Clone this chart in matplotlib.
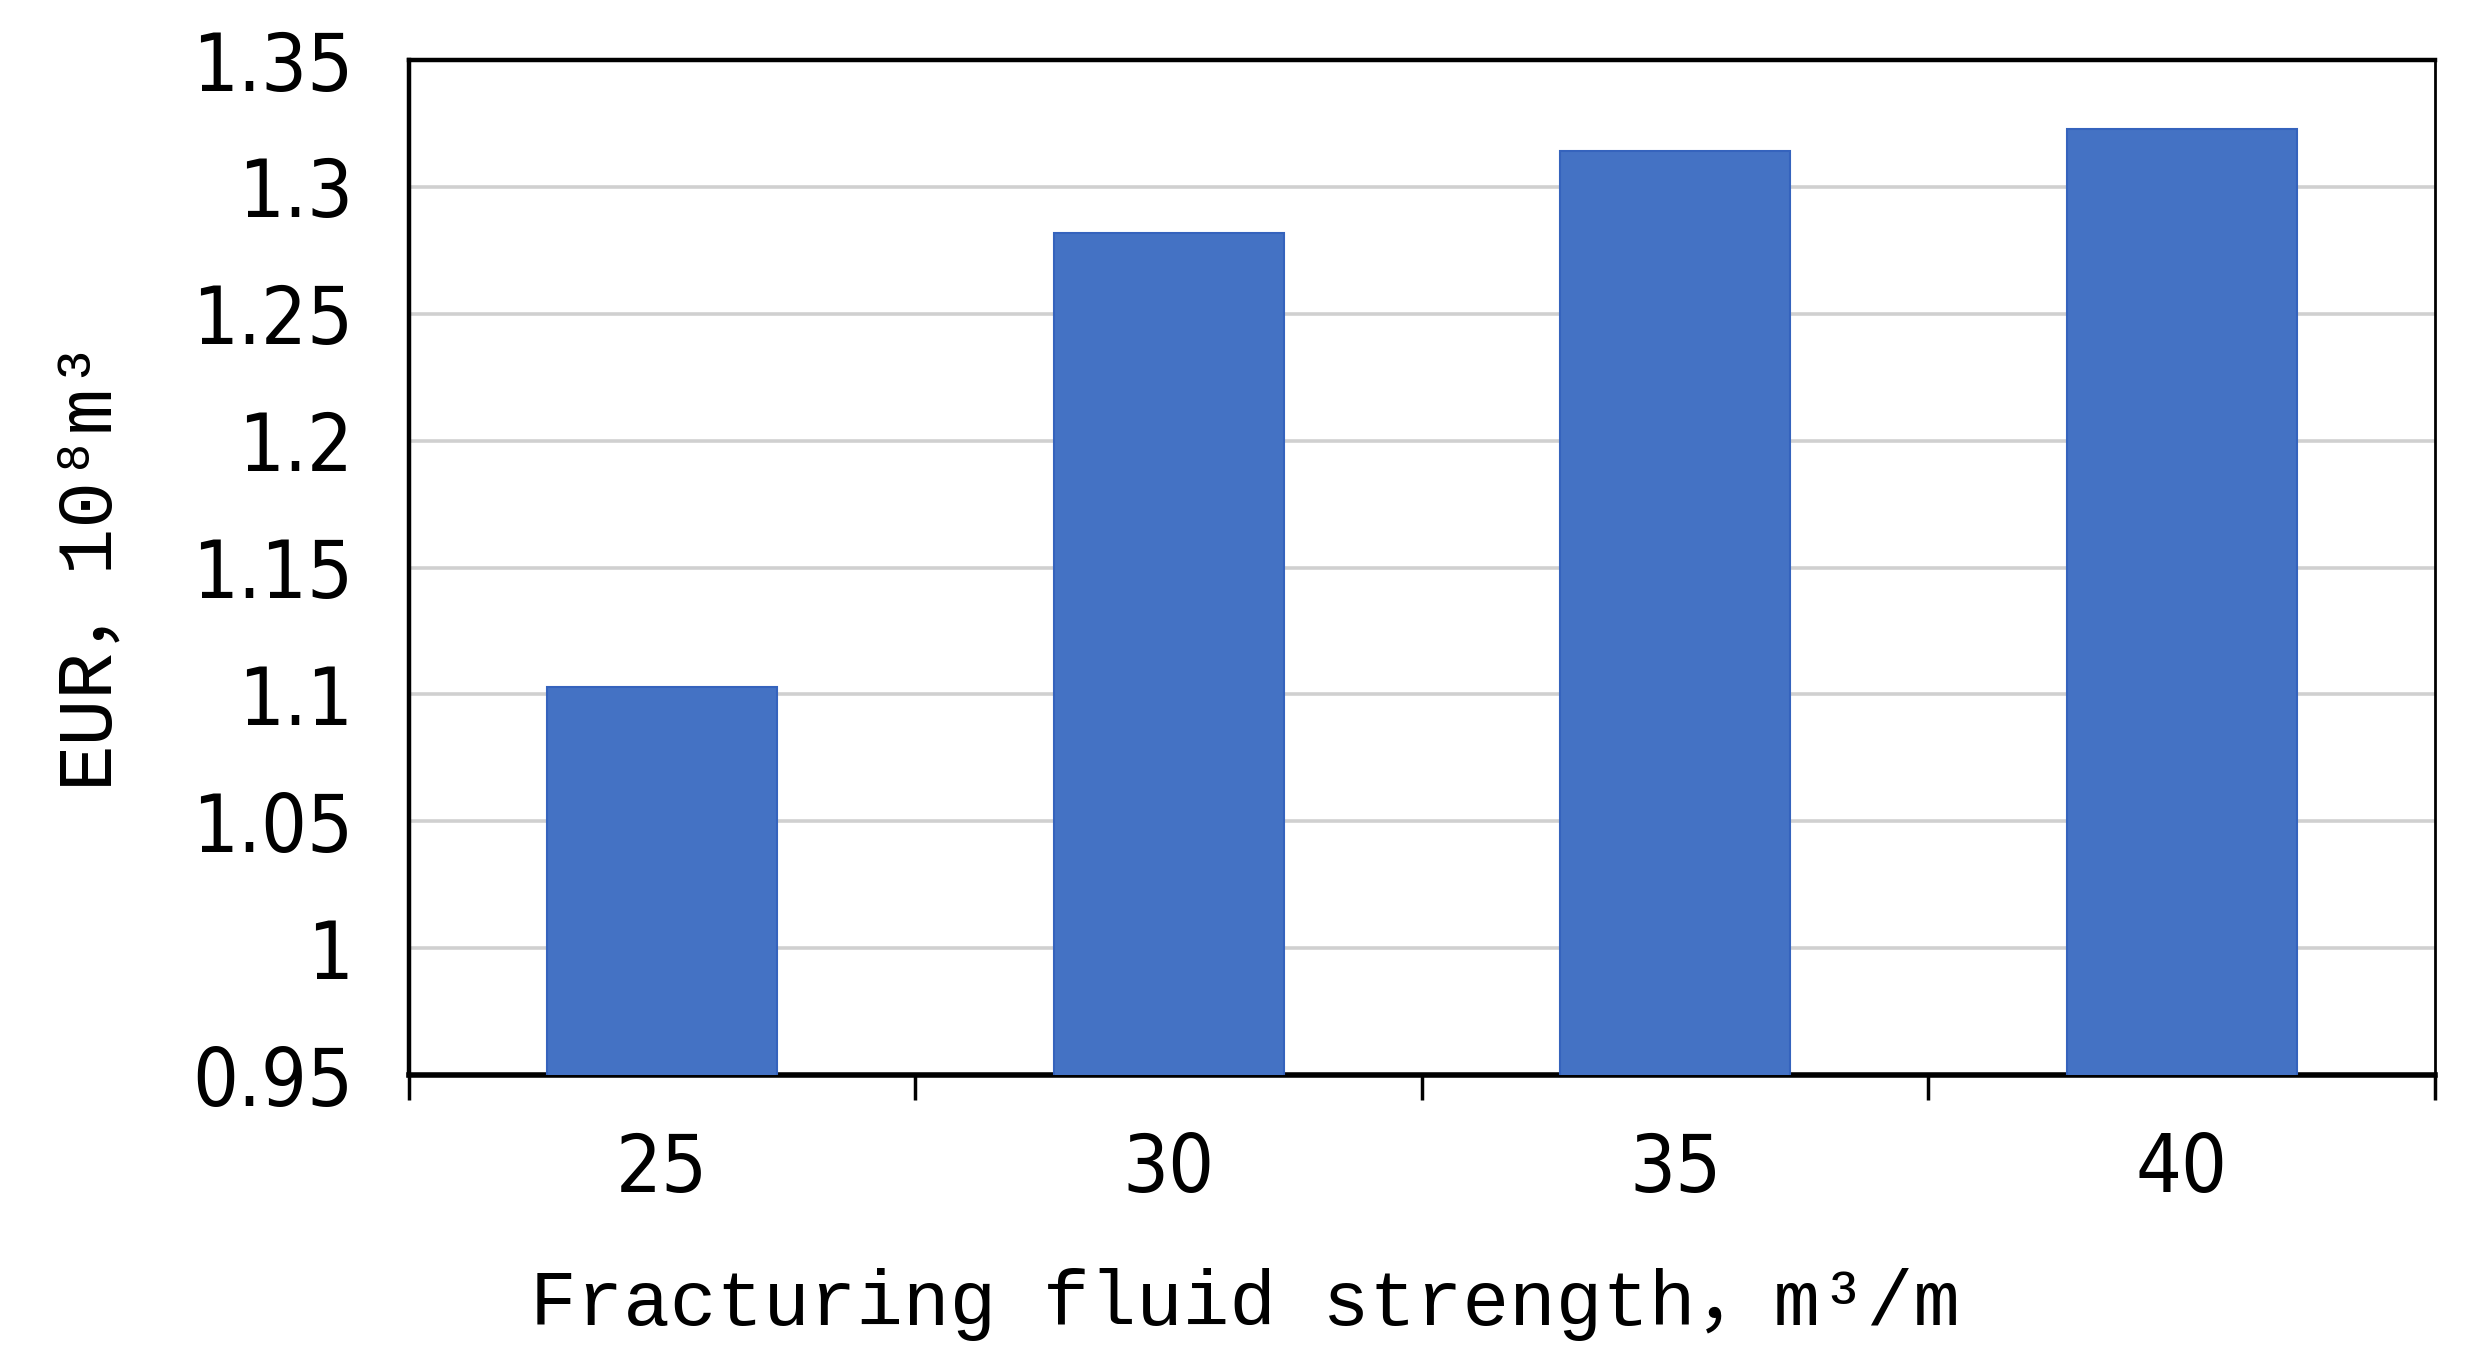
import numpy as np
import matplotlib
matplotlib.use("Agg")
import matplotlib.pyplot as plt
from matplotlib.ticker import FuncFormatter, FixedLocator

# fracturing fluid strength (m3/m) and EUR (10^8 m3)
categories = ['25', '30', '35', '40']
eur = [1.103, 1.282, 1.314, 1.323]
y_ticks = [0.95, 1.0, 1.05, 1.1, 1.15, 1.2, 1.25, 1.3, 1.35]

label_font = ['Liberation Mono', 'Noto Sans CJK SC', 'DejaVu Sans']

fig = plt.figure(figsize=(24.68, 13.67), dpi=100)
ax = fig.add_axes([0.1657, 0.2136, 0.8209, 0.7425])

x = np.arange(len(categories))
ax.bar(x, eur, width=0.4545, color='#4472C4', edgecolor='#3563bd', linewidth=1.5, zorder=3)

ax.set_xlim(-0.5, len(categories) - 0.5)
ax.set_ylim(y_ticks[0], y_ticks[-1])
ax.set_yticks(y_ticks)
ax.yaxis.set_major_formatter(FuncFormatter(lambda v, p: '%g' % round(v, 2)))
ax.grid(axis='y', color='#d0d0d0', linewidth=2.6, zorder=0)
ax.tick_params(axis='y', length=0, pad=40, labelsize=58)

# ticks between categories, labels at the centres
ax.xaxis.set_major_locator(FixedLocator(np.arange(-0.5, len(categories), 1.0)))
ax.xaxis.set_minor_locator(FixedLocator(x))
ax.xaxis.set_major_formatter(FuncFormatter(lambda v, p: ''))
ax.xaxis.set_minor_formatter(FuncFormatter(lambda v, p: categories[int(round(v))]))
ax.tick_params(axis='x', which='major', direction='out', length=18, width=2.5, color='black')
ax.tick_params(axis='x', which='minor', length=0, pad=40, labelsize=58)

for lab in ax.get_xticklabels(minor=True) + ax.get_yticklabels():
    lab.set_family('DejaVu Sans')
    lab.set_stretch('condensed')

for side, lw in [('left', 3.2), ('bottom', 4.0), ('top', 3.2), ('right', 2.0)]:
    ax.spines[side].set_linewidth(lw)
    ax.spines[side].set_color('black')

ax.set_xlabel('Fracturing fluid strength，m³/m', family=label_font, fontsize=56)
ax.set_ylabel('EUR，10⁸m³', family=label_font, fontsize=56)
ax.xaxis.set_label_coords(0.4126, -0.19)
ax.yaxis.set_label_coords(-0.142, 0.508)

fig.savefig('out.png', dpi=100, facecolor='white')
